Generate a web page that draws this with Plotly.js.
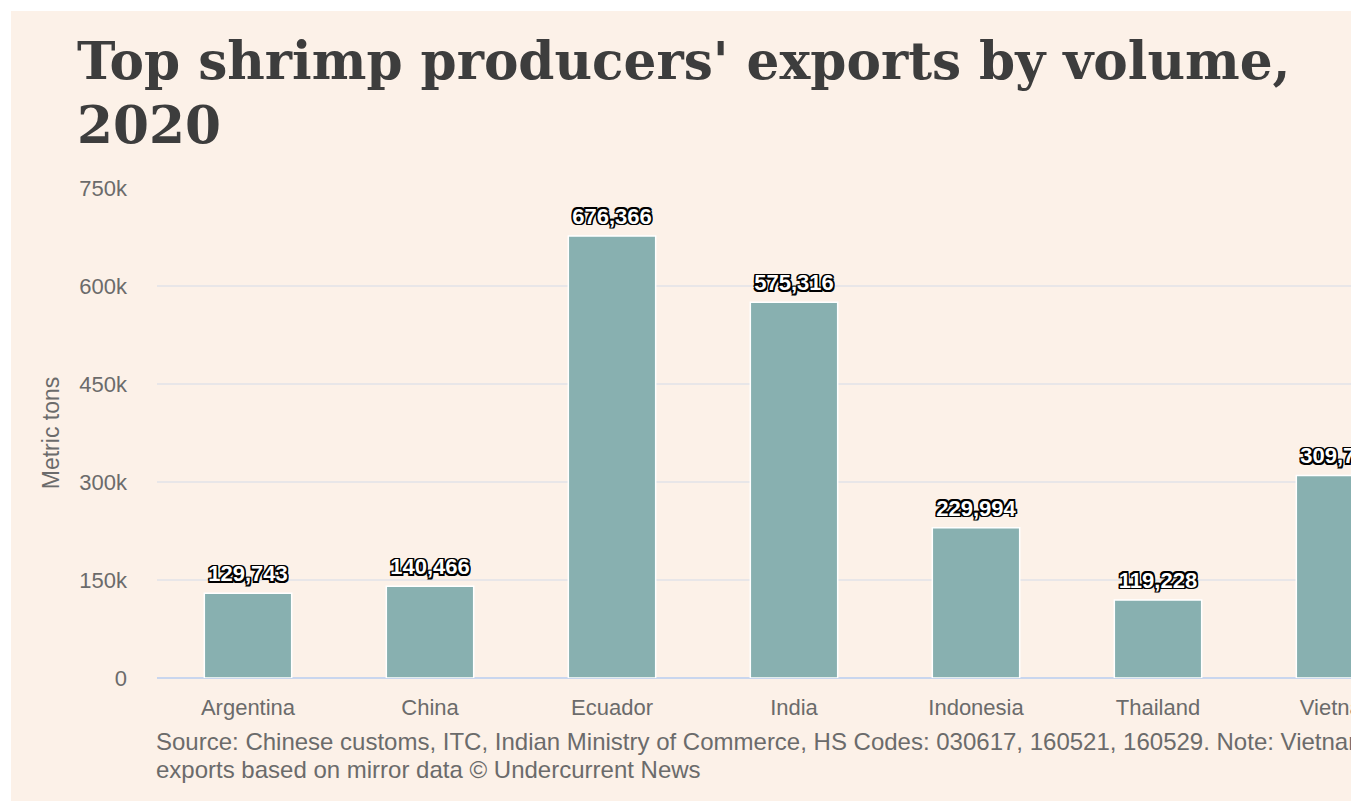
<!DOCTYPE html>
<html>
<head>
<meta charset="utf-8">
<script src="https://cdn.plot.ly/plotly-3.0.1.min.js"></script>
<style>
html,body{margin:0;padding:0;background:#ffffff;overflow:hidden;}
#chart{position:absolute;left:11px;top:11px;width:1460px;height:800px;}
</style>
</head>
<body>
<div id="chart"></div>
<script>
const countries = ["Argentina", "China", "Ecuador", "India", "Indonesia", "Thailand", "Vietnam"];
const volumes = [129743, 140466, 676366, 575316, 229994, 119228, 309763];
const tickVals = [0, 150000, 300000, 450000, 600000, 750000];
const tickText = ["0", "150k", "300k", "450k", "600k", "750k"];
const titleLines = ["Top shrimp producers' exports by volume,", "2020"];
const yTitle = "Metric tons";
const sourceLines = [
  "Source: Chinese customs, ITC, Indian Ministry of Commerce, HS Codes: 030617, 160521, 160529. Note: Vietnam",
  "exports based on mirror data © Undercurrent News"
];

const labels = volumes.map(v => v.toLocaleString("en-US"));
const outline = "1.5px 1.5px 0 #000, -1.5px -1.5px 0 #000, 1.5px -1.5px 0 #000, -1.5px 1.5px 0 #000, 0 1.5px 0 #000, 0 -1.5px 0 #000, 1.5px 0 0 #000, -1.5px 0 0 #000";

const bars = {
  type: "bar",
  x: countries,
  y: volumes,
  marker: {color: "#88b0b0", line: {color: "#ffffff", width: 1.5}},
  hoverinfo: "skip"
};

const valueLabels = {
  type: "scatter",
  mode: "markers+text",
  x: countries,
  y: volumes,
  text: labels,
  textposition: "top center",
  cliponaxis: false,
  marker: {size: 9, opacity: 0},
  textfont: {
    family: "Liberation Sans, Arial, sans-serif",
    size: 22,
    color: "#ffffff",
    weight: "bold",
    shadow: outline
  },
  hoverinfo: "skip"
};

const PLOT_TOP = 177, PLOT_H = 490;
function paperY(chartY) { return 1 - (chartY - PLOT_TOP) / PLOT_H; }

const layout = {
  width: 1460,
  height: 800,
  paper_bgcolor: "#fcf1e8",
  plot_bgcolor: "#fcf1e8",
  margin: {l: 146, r: 40, t: PLOT_TOP, b: 800 - PLOT_TOP - PLOT_H},
  bargap: 0.52,
  showlegend: false,
  font: {family: "Liberation Sans, Arial, sans-serif", color: "#6b6b6b"},
  xaxis: {
    type: "category",
    tickfont: {size: 22, color: "#6b6b6b"},
    showgrid: false,
    showline: false,
    zeroline: false,
    ticks: "",
    ticklabelstandoff: 14
  },
  yaxis: {
    range: [0, 750000],
    tickvals: tickVals,
    ticktext: tickText,
    tickfont: {size: 22, color: "#6b6b6b"},
    showgrid: true,
    gridcolor: "#e8e6e8",
    gridwidth: 2,
    zeroline: true,
    zerolinecolor: "#c9d6ee",
    zerolinewidth: 2,
    ticks: "",
    ticklabelstandoff: 29,
    title: {text: yTitle, font: {size: 23, color: "#6b6b6b"}, standoff: 13}
  },
  annotations: [
    {
      text: titleLines[0], xref: "paper", yref: "paper",
      x: 0, xshift: -82, y: paperY(49), xanchor: "left", yanchor: "middle",
      showarrow: false,
      font: {family: "DejaVu Serif, Georgia, serif", size: 51.7, color: "#3d3d3d", weight: "bold"}
    },
    {
      text: titleLines[1], xref: "paper", yref: "paper",
      x: 0, xshift: -82, y: paperY(113), xanchor: "left", yanchor: "middle",
      showarrow: false,
      font: {family: "DejaVu Serif, Georgia, serif", size: 51.7, color: "#3d3d3d", weight: "bold"}
    },
    {
      text: sourceLines[0], xref: "paper", yref: "paper",
      x: 0, xshift: -3, y: paperY(730), xanchor: "left", yanchor: "middle",
      showarrow: false, font: {size: 24, color: "#6b6b6b"}
    },
    {
      text: sourceLines[1], xref: "paper", yref: "paper",
      x: 0, xshift: -3, y: paperY(758), xanchor: "left", yanchor: "middle",
      showarrow: false, font: {size: 24, color: "#6b6b6b"}
    }
  ]
};

Plotly.newPlot("chart", [bars, valueLabels], layout, {displayModeBar: false, responsive: false});
</script>
</body>
</html>
